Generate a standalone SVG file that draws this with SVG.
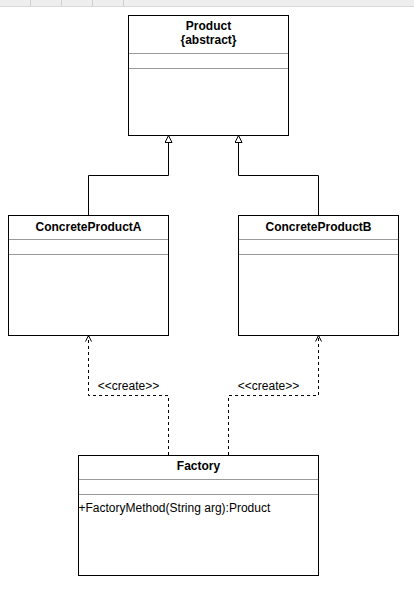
<svg xmlns="http://www.w3.org/2000/svg" width="414" height="589" viewBox="0 0 414 589">
<style>
.box{fill:#fff;stroke:#000;stroke-width:1}
.sep{stroke:#999;stroke-width:1}
.title{font-family:"Liberation Sans",Arial,sans-serif;font-size:12px;font-weight:bold;text-anchor:middle;fill:#000}
.txt{font-family:"Liberation Sans",Arial,sans-serif;font-size:12px;fill:#000}
.lbl{font-family:"Liberation Sans",Arial,sans-serif;font-size:12px;text-anchor:middle;fill:#000}
.gen{fill:none;stroke:#000;stroke-width:1}
.dep{fill:none;stroke:#000;stroke-width:1;stroke-dasharray:3 3}
</style>
<defs>
<marker id="tri" markerWidth="10" markerHeight="10" refX="7" refY="4" orient="auto" markerUnits="userSpaceOnUse">
<path d="M0,0.5 L7,4 L0,7.5 Z" fill="#fff" stroke="#000" stroke-width="1"/>
</marker>
<marker id="open" markerWidth="10" markerHeight="10" refX="6" refY="4" orient="auto" markerUnits="userSpaceOnUse">
<path d="M0,1 L6,4 L0,7" fill="none" stroke="#000" stroke-width="1"/>
</marker>
</defs>
<rect x="0" y="0" width="414" height="589" fill="#fff"/>
<g id="toolbar">
<rect x="0" y="0" width="414" height="6" fill="#eeeeee"/>
<line x1="0" y1="6.5" x2="414" y2="6.5" stroke="#dadada"/>
<g stroke="#d0d0d0">
<line x1="30.5" y1="0" x2="30.5" y2="6"/>
<line x1="61.5" y1="0" x2="61.5" y2="6"/>
<line x1="92.5" y1="0" x2="92.5" y2="6"/>
<line x1="123.5" y1="0" x2="123.5" y2="6"/>
</g>
</g>
<g id="connectors">
<path class="gen" d="M88.5,215 V175.5 H168.5 V135.5" marker-end="url(#tri)"/>
<path class="gen" d="M318.5,215 V175.5 H238.5 V135.5" marker-end="url(#tri)"/>
<path class="dep" d="M168.5,455 V395.5 H88.5 V335.5" marker-end="url(#open)"/>
<path class="dep" d="M228.5,455 V395.5 H318.5 V335.5" marker-end="url(#open)"/>
<text class="lbl" x="128.5" y="390">&lt;&lt;create&gt;&gt;</text>
<text class="lbl" x="268.5" y="390">&lt;&lt;create&gt;&gt;</text>
</g>
<g id="product">
<rect class="box" x="128.5" y="15.5" width="160" height="120"/>
<text class="title" x="208.5" y="29.5">Product</text>
<text class="title" x="208.5" y="43.5">{abstract}</text>
<line class="sep" x1="129" y1="53.5" x2="288" y2="53.5"/>
<line class="sep" x1="129" y1="68.5" x2="288" y2="68.5"/>
</g>
<g id="concreteProductA">
<rect class="box" x="8.5" y="215.5" width="160" height="120"/>
<text class="title" x="88.5" y="230.5">ConcreteProductA</text>
<line class="sep" x1="9" y1="239.5" x2="168" y2="239.5"/>
<line class="sep" x1="9" y1="254.5" x2="168" y2="254.5"/>
</g>
<g id="concreteProductB">
<rect class="box" x="238.5" y="215.5" width="160" height="120"/>
<text class="title" x="318.5" y="230.5">ConcreteProductB</text>
<line class="sep" x1="239" y1="239.5" x2="398" y2="239.5"/>
<line class="sep" x1="239" y1="254.5" x2="398" y2="254.5"/>
</g>
<g id="factory">
<rect class="box" x="78.5" y="455.5" width="240" height="120"/>
<text class="title" x="198.5" y="470">Factory</text>
<line class="sep" x1="79" y1="479.5" x2="318" y2="479.5"/>
<line class="sep" x1="79" y1="494.5" x2="318" y2="494.5"/>
<text class="txt" x="78.5" y="512">+FactoryMethod(String arg):Product</text>
</g>
</svg>
